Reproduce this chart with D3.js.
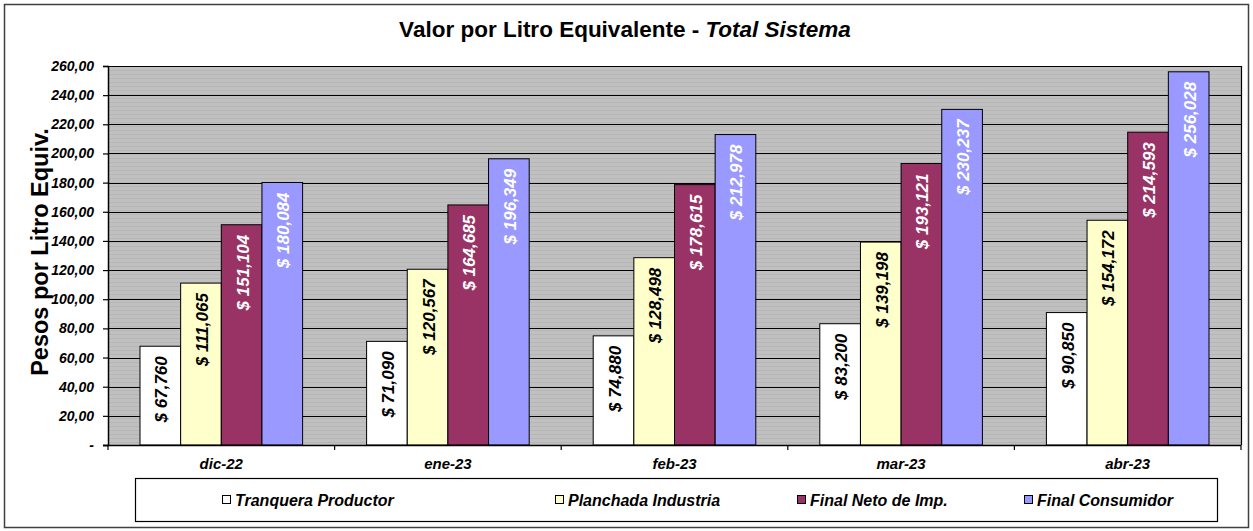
<!DOCTYPE html>
<html>
<head>
<meta charset="utf-8">
<script src="https://cdn.jsdelivr.net/npm/d3@7"></script>
<style>
  body { margin: 0; background: #fff; }
  svg { font-family: "Liberation Sans", Arial, sans-serif; }
</style>
</head>
<body>
<div id="chart"></div>
<script>
// Data
const MONTHS = ['dic-22', 'ene-23', 'feb-23', 'mar-23', 'abr-23'];
const SERIES = ['Tranquera Productor', 'Planchada Industria', 'Final Neto de Imp.', 'Final Consumidor'];
const TRANQUERA = [67.760, 71.090, 74.880, 83.200, 90.850];
const PLANCHADA = [111.065, 120.567, 128.498, 139.198, 154.172];
const NETO = [151.104, 164.685, 178.615, 193.121, 214.593];
const CONSUMIDOR = [180.084, 196.349, 212.978, 230.237, 256.028];
const Y_TICKS = [0, 20, 40, 60, 80, 100, 120, 140, 160, 180, 200, 220, 240, 260];

const COLORS = ['#ffffff', '#ffffcc', '#993366', '#9999ff'];
const LABEL_COLORS = ['#000', '#000', '#fff', '#fff'];

const WIDTH = 1253, HEIGHT = 531;
const PLOT = {left: 108, right: 1241, top: 66, bottom: 445};

const table = MONTHS.map((m, i) => ({
  month: m,
  values: [TRANQUERA[i], PLANCHADA[i], NETO[i], CONSUMIDOR[i]]
}));

const fmtTick = v => v === 0 ? '-' : v.toFixed(2).replace('.', ',');
const fmtLabel = v => '$ ' + v.toFixed(3).replace('.', ',');

const svg = d3.select('#chart').append('svg')
  .attr('width', WIDTH)
  .attr('height', HEIGHT);

// Striped grey pattern for the plot area
const defs = svg.append('defs');
const pat = defs.append('pattern')
  .attr('id', 'stripes')
  .attr('patternUnits', 'userSpaceOnUse')
  .attr('width', 8).attr('height', 4);
pat.append('rect').attr('width', 8).attr('height', 4).attr('fill', '#c0c0c0');
pat.append('rect').attr('y', 2).attr('width', 8).attr('height', 1).attr('fill', '#b6b6b6');

// Outer frame
svg.append('rect')
  .attr('x', 4.5).attr('y', 4.5)
  .attr('width', WIDTH - 9).attr('height', HEIGHT - 8)
  .attr('fill', '#fff')
  .attr('stroke', '#404040')
  .attr('stroke-width', 1.5);

// Scales
const x0 = d3.scaleBand()
  .domain(MONTHS)
  .range([PLOT.left, PLOT.right])
  .paddingInner(0)
  .paddingOuter(0);

const x1 = d3.scaleBand()
  .domain(d3.range(SERIES.length))
  .range([32, x0.bandwidth() - 32])
  .padding(0);

const y = d3.scaleLinear()
  .domain([0, 260])
  .range([PLOT.bottom, PLOT.top]);

// Plot background
svg.append('rect')
  .attr('x', PLOT.left).attr('y', PLOT.top)
  .attr('width', PLOT.right - PLOT.left)
  .attr('height', PLOT.bottom - PLOT.top)
  .attr('fill', 'url(#stripes)');

// Gridlines
svg.append('g')
  .selectAll('line')
  .data(Y_TICKS.filter(t => t > 0))
  .enter()
  .append('line')
  .attr('x1', PLOT.left).attr('x2', PLOT.right)
  .attr('y1', d => Math.round(y(d)) + 0.5)
  .attr('y2', d => Math.round(y(d)) + 0.5)
  .attr('stroke', '#000')
  .attr('stroke-width', 1.2);

// Right border of plot
svg.append('line')
  .attr('x1', PLOT.right + 0.5).attr('x2', PLOT.right + 0.5)
  .attr('y1', PLOT.top).attr('y2', PLOT.bottom)
  .attr('stroke', '#000')
  .attr('stroke-width', 1.2);

// Bars
const groups = svg.append('g')
  .selectAll('g')
  .data(table)
  .enter()
  .append('g')
  .attr('transform', d => `translate(${x0(d.month)},0)`);

const bars = groups.selectAll('g.bar')
  .data(d => d.values.map((v, i) => ({v, i})))
  .enter()
  .append('g')
  .attr('class', 'bar');

bars.append('rect')
  .attr('x', d => x1(d.i))
  .attr('y', d => y(d.v))
  .attr('width', x1.bandwidth())
  .attr('height', d => y(0) - y(d.v))
  .attr('fill', d => COLORS[d.i])
  .attr('stroke', '#000')
  .attr('stroke-width', 1);

// Bar labels (rotated, inside end)
bars.append('text')
  .attr('transform', d => `translate(${x1(d.i) + x1.bandwidth() / 2 + 7}, ${y(d.v) + 10}) rotate(-90)`)
  .attr('text-anchor', 'end')
  .attr('fill', d => LABEL_COLORS[d.i])
  .attr('font-size', 17)
  .attr('font-weight', 'bold')
  .attr('font-style', 'italic')
  .text(d => fmtLabel(d.v));

// Y axis
const yAxis = d3.axisLeft(y)
  .tickValues(Y_TICKS)
  .tickSize(5)
  .tickPadding(9)
  .tickFormat(fmtTick);

const yg = svg.append('g')
  .attr('transform', `translate(${PLOT.left},0)`)
  .call(yAxis);
yg.select('.domain').attr('stroke', '#000').attr('stroke-width', 1.5);
yg.selectAll('.tick line').attr('stroke', '#000').attr('stroke-width', 1.2);
yg.selectAll('.tick text')
  .attr('font-family', '"Liberation Sans", Arial, sans-serif')
  .attr('font-size', 14)
  .attr('font-weight', 'bold')
  .attr('font-style', 'italic')
  .attr('fill', '#000');

// X axis line and boundary ticks
svg.append('line')
  .attr('x1', PLOT.left - 5).attr('x2', PLOT.right)
  .attr('y1', PLOT.bottom + 0.5).attr('y2', PLOT.bottom + 0.5)
  .attr('stroke', '#000')
  .attr('stroke-width', 1.5);

svg.append('g')
  .selectAll('line')
  .data(MONTHS.concat(['end']))
  .enter()
  .append('line')
  .attr('x1', (d, i) => PLOT.left + i * x0.bandwidth())
  .attr('x2', (d, i) => PLOT.left + i * x0.bandwidth())
  .attr('y1', PLOT.bottom)
  .attr('y2', PLOT.bottom + 5)
  .attr('stroke', '#000')
  .attr('stroke-width', 1.2);

svg.append('g')
  .selectAll('text')
  .data(MONTHS)
  .enter()
  .append('text')
  .attr('x', d => x0(d) + x0.bandwidth() / 2)
  .attr('y', 469)
  .attr('text-anchor', 'middle')
  .attr('font-size', 15)
  .attr('font-weight', 'bold')
  .attr('font-style', 'italic')
  .text(d => d);

// Title
const title = svg.append('text')
  .attr('x', 625)
  .attr('y', 37)
  .attr('text-anchor', 'middle')
  .attr('font-size', 22.5)
  .attr('font-weight', 'bold');
title.append('tspan').text('Valor por Litro Equivalente - ');
title.append('tspan').attr('font-style', 'italic').text('Total Sistema');

// Y axis title
svg.append('text')
  .attr('transform', `translate(48, 252) rotate(-90)`)
  .attr('text-anchor', 'middle')
  .attr('font-size', 23.5)
  .attr('font-weight', 'bold')
  .text('Pesos por Litro Equiv.');

// Legend
const legend = svg.append('g');
legend.append('rect')
  .attr('x', 135.5).attr('y', 478.5)
  .attr('width', 1082).attr('height', 43)
  .attr('fill', '#fff')
  .attr('stroke', '#000')
  .attr('stroke-width', 1.2);

const LEGEND_X = [222, 555, 797, 1024];
const items = legend.selectAll('g')
  .data(SERIES)
  .enter()
  .append('g')
  .attr('transform', (d, i) => `translate(${LEGEND_X[i]}, 500)`);

items.append('rect')
  .attr('x', 0.5).attr('y', -4.5)
  .attr('width', 8).attr('height', 8)
  .attr('fill', (d, i) => COLORS[i])
  .attr('stroke', '#000')
  .attr('stroke-width', 1);

items.append('text')
  .attr('x', 13)
  .attr('y', 5.5)
  .attr('font-size', 16)
  .attr('font-weight', 'bold')
  .attr('font-style', 'italic')
  .text(d => d);
</script>
</body>
</html>
